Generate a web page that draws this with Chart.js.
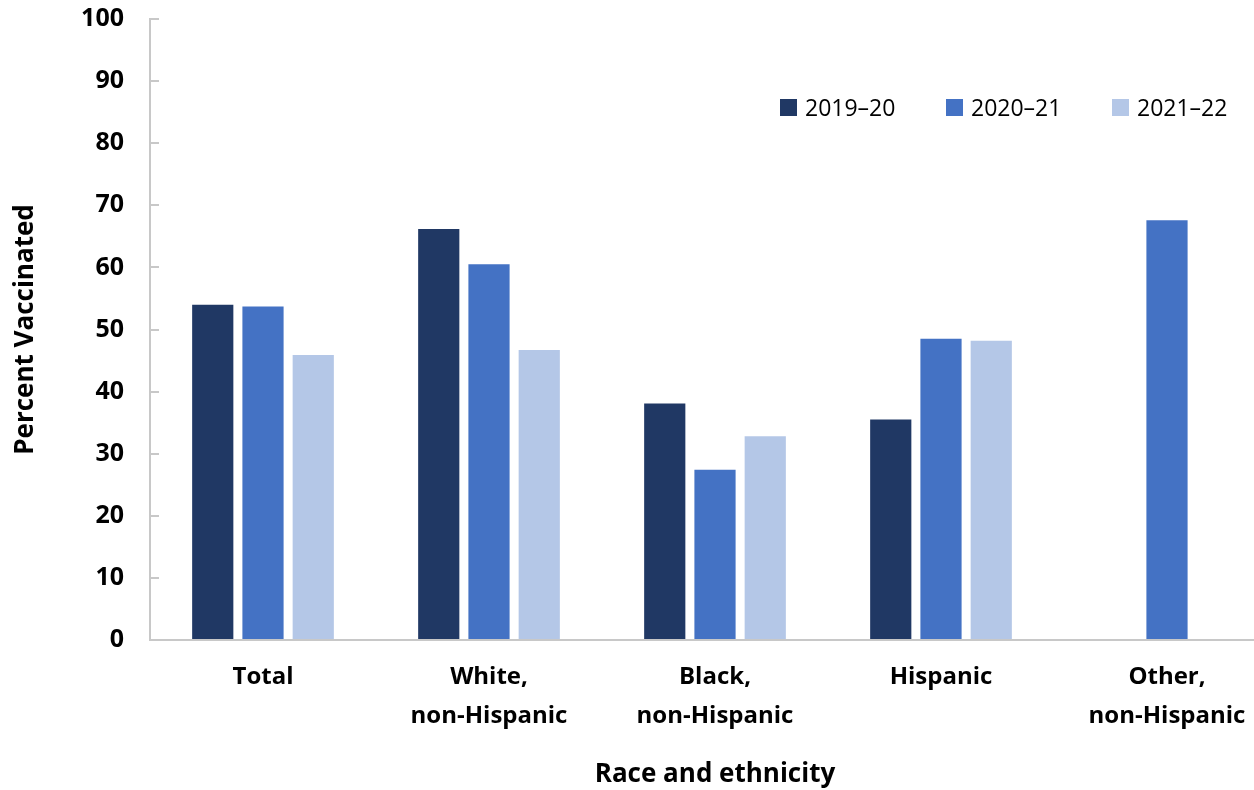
<!DOCTYPE html>
<html>
<head>
<meta charset="utf-8">
<script src="https://cdn.jsdelivr.net/npm/chart.js@4"></script>
<style>
    html, body {
        margin: 0;
        padding: 0;
        background: #fff;
        overflow: hidden;
    }
    #wrap {
        position: relative;
        width: 1280px;
        height: 790px;
    }
    #legend {
        position: absolute;
        left: 780px;
        top: 91px;
        display: flex;
        font-family: "Open Sans", sans-serif;
        font-size: 23px;
        color: #000;
    }
    #legend .item {
        display: flex;
        align-items: center;
        width: 166px;
        white-space: nowrap;
    }
    #legend .box {
        width: 17px;
        height: 17px;
        margin-right: 8px;
    }
</style>
</head>
<body>
<div id="wrap">
    <canvas id="mychart" width="1280" height="790"></canvas>
    <div id="legend"></div>
</div>
<script>
const categories = ['Total', ['White,', 'non-Hispanic'], ['Black,', 'non-Hispanic'], 'Hispanic', ['Other,', 'non-Hispanic']]
const seasons = ['2019–20', '2020–21', '2021–22']
const season2019 = [54.0, 66.2, 38.1, 35.5, null]
const season2020 = [53.7, 60.5, 27.4, 48.5, 67.6]
const season2021 = [45.9, 46.7, 32.8, 48.2, null]
const yTicks = [0, 10, 20, 30, 40, 50, 60, 70, 80, 90, 100]

const colors = ['#203864', '#4472C4', '#B4C7E7']
const axisColor = '#C8C8C8'

function makeDataset(i, values) {
    return {
        label: seasons[i],
        data: values,
        backgroundColor: colors[i],
        categoryPercentage: 0.667,
        barPercentage: 0.82
    }
}

function showLegend() {
    const container = document.getElementById('legend')
    seasons.forEach((s, i) => {
        const item = document.createElement('div')
        item.className = 'item'
        const box = document.createElement('span')
        box.className = 'box'
        box.style.background = colors[i]
        const txt = document.createElement('span')
        txt.textContent = s
        item.appendChild(box)
        item.appendChild(txt)
        container.appendChild(item)
    })
}

const ctx = document.getElementById('mychart')

new Chart(ctx, {
    type: 'bar',
    data: {
        labels: categories,
        datasets: [
            makeDataset(0, season2019),
            makeDataset(1, season2020),
            makeDataset(2, season2021)
        ]
    },
    options: {
        responsive: false,
        animation: false,
        layout: {
            padding: { top: 19, left: 0, right: 0, bottom: 0 }
        },
        plugins: {
            legend: { display: false },
            tooltip: { enabled: false }
        },
        scales: {
            x: {
                grid: {
                    display: true,
                    drawOnChartArea: false,
                    drawTicks: false,
                    color: 'transparent'
                },
                border: { color: axisColor, width: 2 },
                ticks: {
                    color: '#000',
                    padding: 17,
                    font: { family: 'Open Sans', size: 24, weight: 'bold', lineHeight: 1.65 }
                },
                title: {
                    display: true,
                    text: 'Race and ethnicity',
                    color: '#000',
                    padding: { top: 0, bottom: 0 },
                    font: { family: 'Open Sans', size: 26, weight: 'bold' }
                },
                afterFit: function (scale) {
                    scale.height = 150
                    scale.paddingTop = 0
                }
            },
            y: {
                min: 0,
                max: 100,
                afterBuildTicks: function (scale) {
                    scale.ticks = yTicks.map(v => ({ value: v }))
                },
                grid: {
                    drawOnChartArea: false,
                    drawTicks: true,
                    tickLength: -9,
                    color: axisColor,
                    lineWidth: 2
                },
                border: { color: axisColor, width: 2 },
                ticks: {
                    color: '#000',
                    padding: 35,
                    font: { family: 'Open Sans', size: 25, weight: 'bold' }
                },
                title: {
                    display: true,
                    text: 'Percent Vaccinated',
                    color: '#000',
                    padding: { top: 10, bottom: 0 },
                    font: { family: 'Open Sans', size: 26, weight: 'bold' }
                },
                afterFit: function (scale) {
                    scale.width = 150
                    // top label may overhang the plot
                    scale.paddingTop = 0
                    scale.paddingBottom = 0
                }
            }
        }
    }
})

showLegend()
</script>
</body>
</html>
